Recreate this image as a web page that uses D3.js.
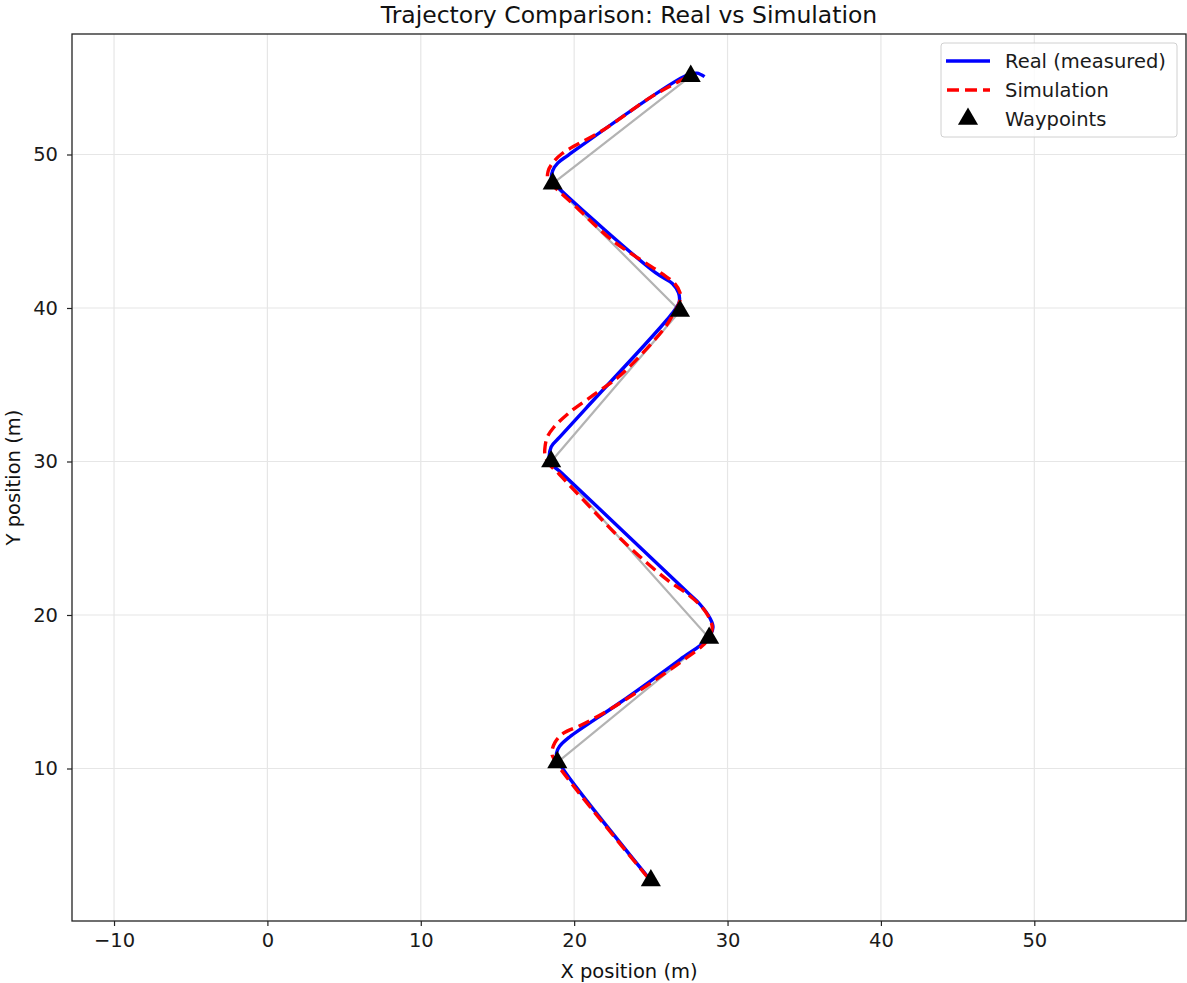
<!DOCTYPE html>
<html><head><meta charset="utf-8">
<script src="https://cdn.jsdelivr.net/npm/d3@7"></script>
<style>body{margin:0;background:#fff;} text{font-family:"DejaVu Sans",sans-serif;}</style>
</head><body>
<svg id="chart" width="1187" height="983"></svg>
<script>
// Waypoints (planned path)
const waypointX = [25.0, 18.9, 28.8, 18.5, 26.9, 18.6, 27.6];
const waypointY = [2.7, 10.4, 18.5, 30.0, 39.8, 48.1, 55.1];
// Real (measured) trajectory
const realX = [25.0, 18.95, 18.85, 19.05, 19.7, 23.0, 26.9, 28.65, 29.05, 28.85, 28.2, 27.4, 19.2, 18.45, 18.5, 19.07, 20.8, 26.35, 26.85, 26.8, 26.4, 25.3, 18.95, 18.55, 18.6, 18.94, 19.6, 27.3, 28.0, 28.5];
const realY = [2.7, 10.5, 11.0, 11.45, 12.05, 14.3, 17.1, 18.4, 19.2, 19.8, 20.7, 21.46, 29.24, 29.95, 30.95, 31.6, 33.5, 39.6, 40.4, 41.0, 41.6, 42.3, 47.85, 48.3, 48.95, 49.45, 49.95, 55.15, 55.3, 55.07];
// Simulation trajectory
const simX = [24.8, 18.75, 18.55, 18.75, 19.3, 20.4, 21.9, 23.6, 26.9, 28.7, 29.0, 28.7, 28.2, 27.35, 26.05, 23.2, 20.5, 19.0, 18.35, 18.1, 18.1, 18.25, 18.65, 19.7, 21.5, 23.0, 25.9, 26.4, 26.9, 26.9, 26.55, 25.7, 22.5, 20.0, 18.8, 18.3, 18.3, 18.6, 19.2, 21.9, 25.1, 26.9, 27.5];
const simY = [2.9, 10.5, 11.0, 11.7, 12.3, 12.8, 13.6, 14.65, 16.9, 18.35, 19.2, 20.0, 20.65, 21.4, 22.3, 24.8, 27.6, 29.2, 29.85, 30.4, 30.95, 31.6, 32.2, 33.2, 34.5, 35.6, 38.7, 39.5, 40.5, 41.0, 41.6, 42.25, 44.4, 46.7, 47.8, 48.3, 48.9, 49.45, 50.05, 51.6, 53.8, 54.8, 55.1];
const xTicks = [-10, 0, 10, 20, 30, 40, 50];
const yTicks = [10, 20, 30, 40, 50];
const legendLabels = ["Real (measured)", "Simulation", "Waypoints"];

const svg = d3.select("#chart");
const L = 72, R = 1186, T = 34, B = 921;
const x = d3.scaleLinear().domain([-12.74, 59.89]).range([L, R]);
const y = d3.scaleLinear().domain([0.065, 57.85]).range([B, T]);

svg.append("defs").append("clipPath").attr("id","clip")
  .append("rect").attr("x",L).attr("y",T).attr("width",R-L).attr("height",B-T);

// grid
const grid = svg.append("g");
grid.selectAll(".gx").data(xTicks).enter().append("line")
  .attr("x1",d=>x(d)).attr("x2",d=>x(d)).attr("y1",T).attr("y2",B)
  .attr("stroke","#e6e6e6").attr("stroke-width",1.2);
grid.selectAll(".gy").data(yTicks).enter().append("line")
  .attr("y1",d=>y(d)).attr("y2",d=>y(d)).attr("x1",L).attr("x2",R)
  .attr("stroke","#e6e6e6").attr("stroke-width",1.2);

const plot = svg.append("g").attr("clip-path","url(#clip)");
const line = d3.line().x(d=>x(d[0])).y(d=>y(d[1]));
const smooth = d3.line().x(d=>x(d[0])).y(d=>y(d[1])).curve(d3.curveCatmullRom.alpha(0.5));

const wp = waypointX.map((v,i)=>[v, waypointY[i]]);
const real = realX.map((v,i)=>[v, realY[i]]);
const sim = simX.map((v,i)=>[v, simY[i]]);

plot.append("path").attr("d", line(wp)).attr("fill","none")
  .attr("stroke","#b3b3b3").attr("stroke-width",2.2);
plot.append("path").attr("d", smooth(real)).attr("fill","none")
  .attr("stroke","#0000ff").attr("stroke-width",3.4).attr("stroke-linejoin","round");
plot.append("path").attr("d", smooth(sim)).attr("fill","none")
  .attr("stroke","#ff0000").attr("stroke-width",3.4).attr("stroke-dasharray","12,6");

const tri = d3.symbol().type(d3.symbolTriangle).size(175);
plot.selectAll(".wp").data(wp).enter().append("path")
  .attr("d", tri).attr("transform", d=>`translate(${x(d[0])},${y(d[1])})`)
  .attr("fill","#000");

// axes
const xa = svg.append("g").attr("transform",`translate(0,${B})`)
  .call(d3.axisBottom(x).tickValues(xTicks).tickSize(5).tickPadding(7));
const ya = svg.append("g").attr("transform",`translate(${L},0)`)
  .call(d3.axisLeft(y).tickValues(yTicks).tickSize(5).tickPadding(9));
[xa, ya].forEach(a=>{
  a.selectAll("text").attr("font-size",19.5).attr("fill","#1a1a1a").attr("font-family","DejaVu Sans");
  a.selectAll("line").attr("stroke","#222").attr("stroke-width",1.2);
  a.select(".domain").remove();
});
svg.append("rect").attr("x",L).attr("y",T).attr("width",R-L).attr("height",B-T)
  .attr("fill","none").attr("stroke","#222").attr("stroke-width",1.3);

// labels
svg.append("text").attr("x",(L+R)/2).attr("y",23).attr("text-anchor","middle")
  .attr("font-size",23.5).attr("fill","#111").text("Trajectory Comparison: Real vs Simulation");
svg.append("text").attr("x",(L+R)/2).attr("y",978).attr("text-anchor","middle")
  .attr("font-size",19.5).attr("fill","#111").text("X position (m)");
svg.append("text").attr("transform",`translate(20,${(T+B)/2}) rotate(-90)`).attr("text-anchor","middle")
  .attr("font-size",19.5).attr("fill","#111").text("Y position (m)");

// legend
const lg = svg.append("g");
lg.append("rect").attr("x",941).attr("y",43).attr("width",236).attr("height",94).attr("rx",3)
  .attr("fill","#fff").attr("fill-opacity",0.8).attr("stroke","#d0d0d0").attr("stroke-width",1);
const rows = [61, 90, 119];
lg.append("line").attr("x1",946).attr("x2",990).attr("y1",rows[0]).attr("y2",rows[0])
  .attr("stroke","#0000ff").attr("stroke-width",3.4);
lg.append("line").attr("x1",947).attr("x2",990).attr("y1",rows[1]).attr("y2",rows[1])
  .attr("stroke","#ff0000").attr("stroke-width",3.4).attr("stroke-dasharray","12,6");
lg.append("path").attr("d",tri).attr("transform",`translate(968,${rows[2]})`).attr("fill","#000");
lg.selectAll(".lt").data(legendLabels).enter().append("text")
  .attr("x",1005).attr("y",(d,i)=>rows[i]+7).attr("font-size",19.5).attr("fill","#1a1a1a").text(d=>d);
</script>
</body></html>
